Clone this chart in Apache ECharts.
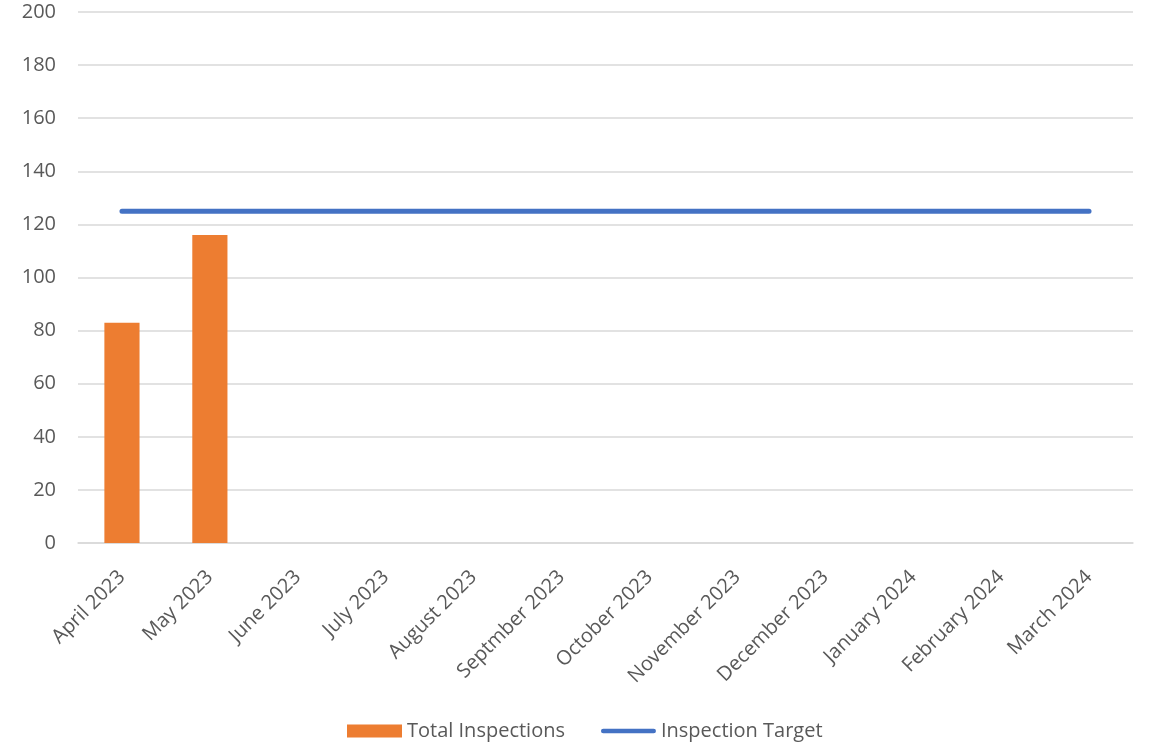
<!DOCTYPE html>
<html>
<head>
<meta charset="utf-8">
<script src="https://cdn.jsdelivr.net/npm/echarts@6/dist/echarts.min.js"></script>
<style>
html,body{margin:0;padding:0;background:#fff;}
#chart{width:1153px;height:745px;}
</style>
</head>
<body>
<div id="chart"></div>
<script>
const categories = ['April 2023','May 2023','June 2023','July 2023','August 2023','Septmber 2023','October 2023','November 2023','December 2023','January 2024','February 2024','March 2024'];
const totalInspections = [83,116,null,null,null,null,null,null,null,null,null,null];
const inspectionTarget = [125,125,125,125,125,125,125,125,125,125,125,125];

const FONT = '"Open Sans", "Liberation Sans", sans-serif';
const chart = echarts.init(document.getElementById('chart'));
chart.setOption({
  animation: false,
  textStyle: {fontFamily: FONT},
  grid: {left: 78, right: 20, top: 12, bottom: 202, containLabel: false},
  legend: {
    top: 716,
    left: 342,
    itemWidth: 55,
    itemHeight: 13,
    itemGap: 36,
    symbolKeepAspect: true,
    textStyle: {fontFamily: FONT, fontSize: 20, color: '#595959'},
    data: [
      {name: 'Total Inspections', icon: 'rect'},
      {name: 'Inspection Target', icon: 'path://M2.5,0 L57.5,0 A2.5,2.5 0 0 1 57.5,5 L2.5,5 A2.5,2.5 0 0 1 2.5,0 Z'}
    ]
  },
  xAxis: {
    type: 'category',
    data: categories,
    boundaryGap: true,
    axisLine: {lineStyle: {color: '#d9d9d9', width: 1.5}},
    axisTick: {show: false},
    axisLabel: {rotate: 45, interval: 0, margin: 31, color: '#595959', fontSize: 20, fontFamily: FONT}
  },
  yAxis: {
    type: 'value',
    min: 0, max: 200, interval: 20,
    axisLine: {show: false},
    axisTick: {show: false},
    splitLine: {lineStyle: {color: '#d9d9d9', width: 1.5}},
    axisLabel: {margin: 22, color: '#595959', fontSize: 20, fontFamily: FONT}
  },
  series: [
    {
      name: 'Total Inspections',
      type: 'bar',
      data: totalInspections,
      barWidth: '40%',
      itemStyle: {color: '#ED7D31'}
    },
    {
      name: 'Inspection Target',
      type: 'line',
      data: inspectionTarget,
      symbol: 'none',
      lineStyle: {color: '#4472C4', width: 5, cap: 'round'},
      itemStyle: {color: '#4472C4'}
    }
  ]
});
</script>
</body>
</html>
